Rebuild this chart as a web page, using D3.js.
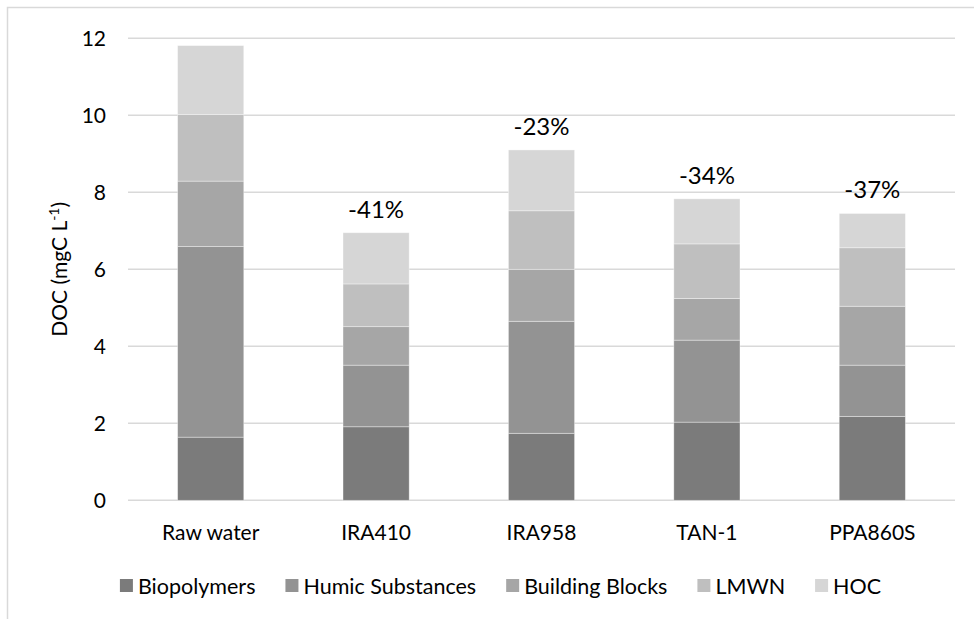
<!DOCTYPE html>
<html>
<head>
<meta charset="utf-8">
<script src="https://cdn.jsdelivr.net/npm/d3@7"></script>
<style>
  html, body { margin: 0; padding: 0; background: #ffffff; }
  svg { display: block; }
  text { font-family: Lato, "Open Sans", sans-serif; fill: #000; }
</style>
</head>
<body>
<svg id="chart" width="974" height="619"></svg>
<script>
// ---- Data ----
const categories = ["Raw water", "IRA410", "IRA958", "TAN-1", "PPA860S"];
const seriesNames = ["Biopolymers", "Humic Substances", "Building Blocks", "LMWN", "HOC"];
const biopolymers    = [1.64, 1.91, 1.74, 2.03, 2.18];
const humicSubstances = [4.95, 1.60, 2.91, 2.13, 1.33];
const buildingBlocks = [1.70, 1.00, 1.35, 1.08, 1.53];
const lmwn           = [1.73, 1.11, 1.52, 1.42, 1.52];
const hoc            = [1.79, 1.33, 1.58, 1.17, 0.89];
const reductionLabels = ["", "-41%", "-23%", "-34%", "-37%"];
const yTicks = [0, 2, 4, 6, 8, 10, 12];
const yTitle = "DOC (mgC L";
const yTitleSup = "-1";
const yTitleEnd = ")";

// ---- Styles ----
const colors = ["#7b7b7b", "#939393", "#a6a6a6", "#bfbfbf", "#d6d6d6"];
const gridColor = "#d9d9d9";

// ---- Build table ----
const seriesArrays = [biopolymers, humicSubstances, buildingBlocks, lmwn, hoc];
const table = categories.map((c, i) => {
  const row = { category: c };
  seriesNames.forEach((s, j) => { row[s] = seriesArrays[j][i]; });
  return row;
});
const stacked = d3.stack().keys(seriesNames)(table);

const svg = d3.select("#chart");

// chart border (cropped at right/bottom like reference)
svg.append("rect")
  .attr("x", 7.5).attr("y", 7.5)
  .attr("width", 1100).attr("height", 800)
  .attr("fill", "none").attr("stroke", gridColor).attr("stroke-width", 1.5);

const plotLeft = 128, plotRight = 955, plotTop = 38.3, plotBottom = 500.3;

const x = d3.scaleBand().domain(categories).range([plotLeft, plotRight]).padding(0);
const y = d3.scaleLinear().domain([0, 12]).range([plotBottom, plotTop]);
const barW = x.bandwidth() * 0.4;

// gridlines
svg.append("g").selectAll("line").data(yTicks).join("line")
  .attr("x1", plotLeft).attr("x2", plotRight)
  .attr("y1", d => y(d)).attr("y2", d => y(d))
  .attr("stroke", gridColor).attr("stroke-width", 1.5);

// y axis labels via d3 axis
const yAxis = d3.axisLeft(y).tickValues(yTicks).tickSize(0).tickPadding(0).tickFormat(d3.format("d"));
const yg = svg.append("g").attr("transform", `translate(106,0)`).call(yAxis);
yg.select(".domain").remove();
yg.selectAll("text").attr("font-size", 21).attr("font-family", "Lato, sans-serif").attr("fill", "#000").attr("dy", "0.35em");

// bars
svg.append("g").selectAll("g").data(stacked).join("g")
  .attr("fill", (d, i) => colors[i])
  .selectAll("rect").data(d => d).join("rect")
  .attr("x", d => x(d.data.category) + (x.bandwidth() - barW) / 2)
  .attr("y", d => y(d[1]))
  .attr("width", barW)
  .attr("height", d => y(d[0]) - y(d[1]))
  .attr("stroke", "#ffffff").attr("stroke-opacity", 0.45).attr("stroke-width", 0.8);

// x axis labels
const xAxis = d3.axisBottom(x).tickSize(0).tickPadding(0);
const xg = svg.append("g").attr("transform", `translate(0,${plotBottom})`).call(xAxis);
xg.select(".domain").remove();
xg.selectAll("text").attr("font-size", 21).attr("font-family", "Lato, sans-serif").attr("fill", "#000")
  .attr("y", 40).attr("dy", 0);

// reduction annotations
const totals = table.map(r => seriesNames.reduce((s, k) => s + r[k], 0));
svg.append("g").selectAll("text").data(categories).join("text")
  .attr("x", d => x(d) + x.bandwidth() / 2)
  .attr("y", (d, i) => y(totals[i]) - 15)
  .attr("text-anchor", "middle")
  .attr("font-size", 24)
  .text((d, i) => reductionLabels[i]);

// y title
const yt = svg.append("text")
  .attr("transform", `translate(67,${(plotTop + plotBottom) / 2}) rotate(-90)`)
  .attr("text-anchor", "middle")
  .attr("font-size", 21);
yt.append("tspan").text(yTitle);
yt.append("tspan").attr("font-size", 14).attr("dy", -8).text(yTitleSup);
yt.append("tspan").attr("dy", 8).text(yTitleEnd);

// legend
const legend = svg.append("g");
const sw = 13, gapText = 5, itemGap = 30;
const items = legend.selectAll("g").data(seriesNames).join("g");
items.append("rect").attr("width", sw).attr("height", sw).attr("y", 579)
  .attr("fill", (d, i) => colors[i]);
items.append("text").attr("x", sw + gapText).attr("y", 593.5)
  .attr("font-size", 21.5).text(d => d);
let cx = 0;
const widths = [];
items.each(function () {
  const w = d3.select(this).select("text").node().getComputedTextLength();
  widths.push(w);
});
const total = widths.reduce((s, w) => s + sw + gapText + w, 0) + itemGap * (widths.length - 1);
cx = 500.5 - total / 2;
items.attr("transform", (d, i) => {
  const t = `translate(${cx},0)`;
  cx += sw + gapText + widths[i] + itemGap;
  return t;
});
</script>
</body>
</html>
